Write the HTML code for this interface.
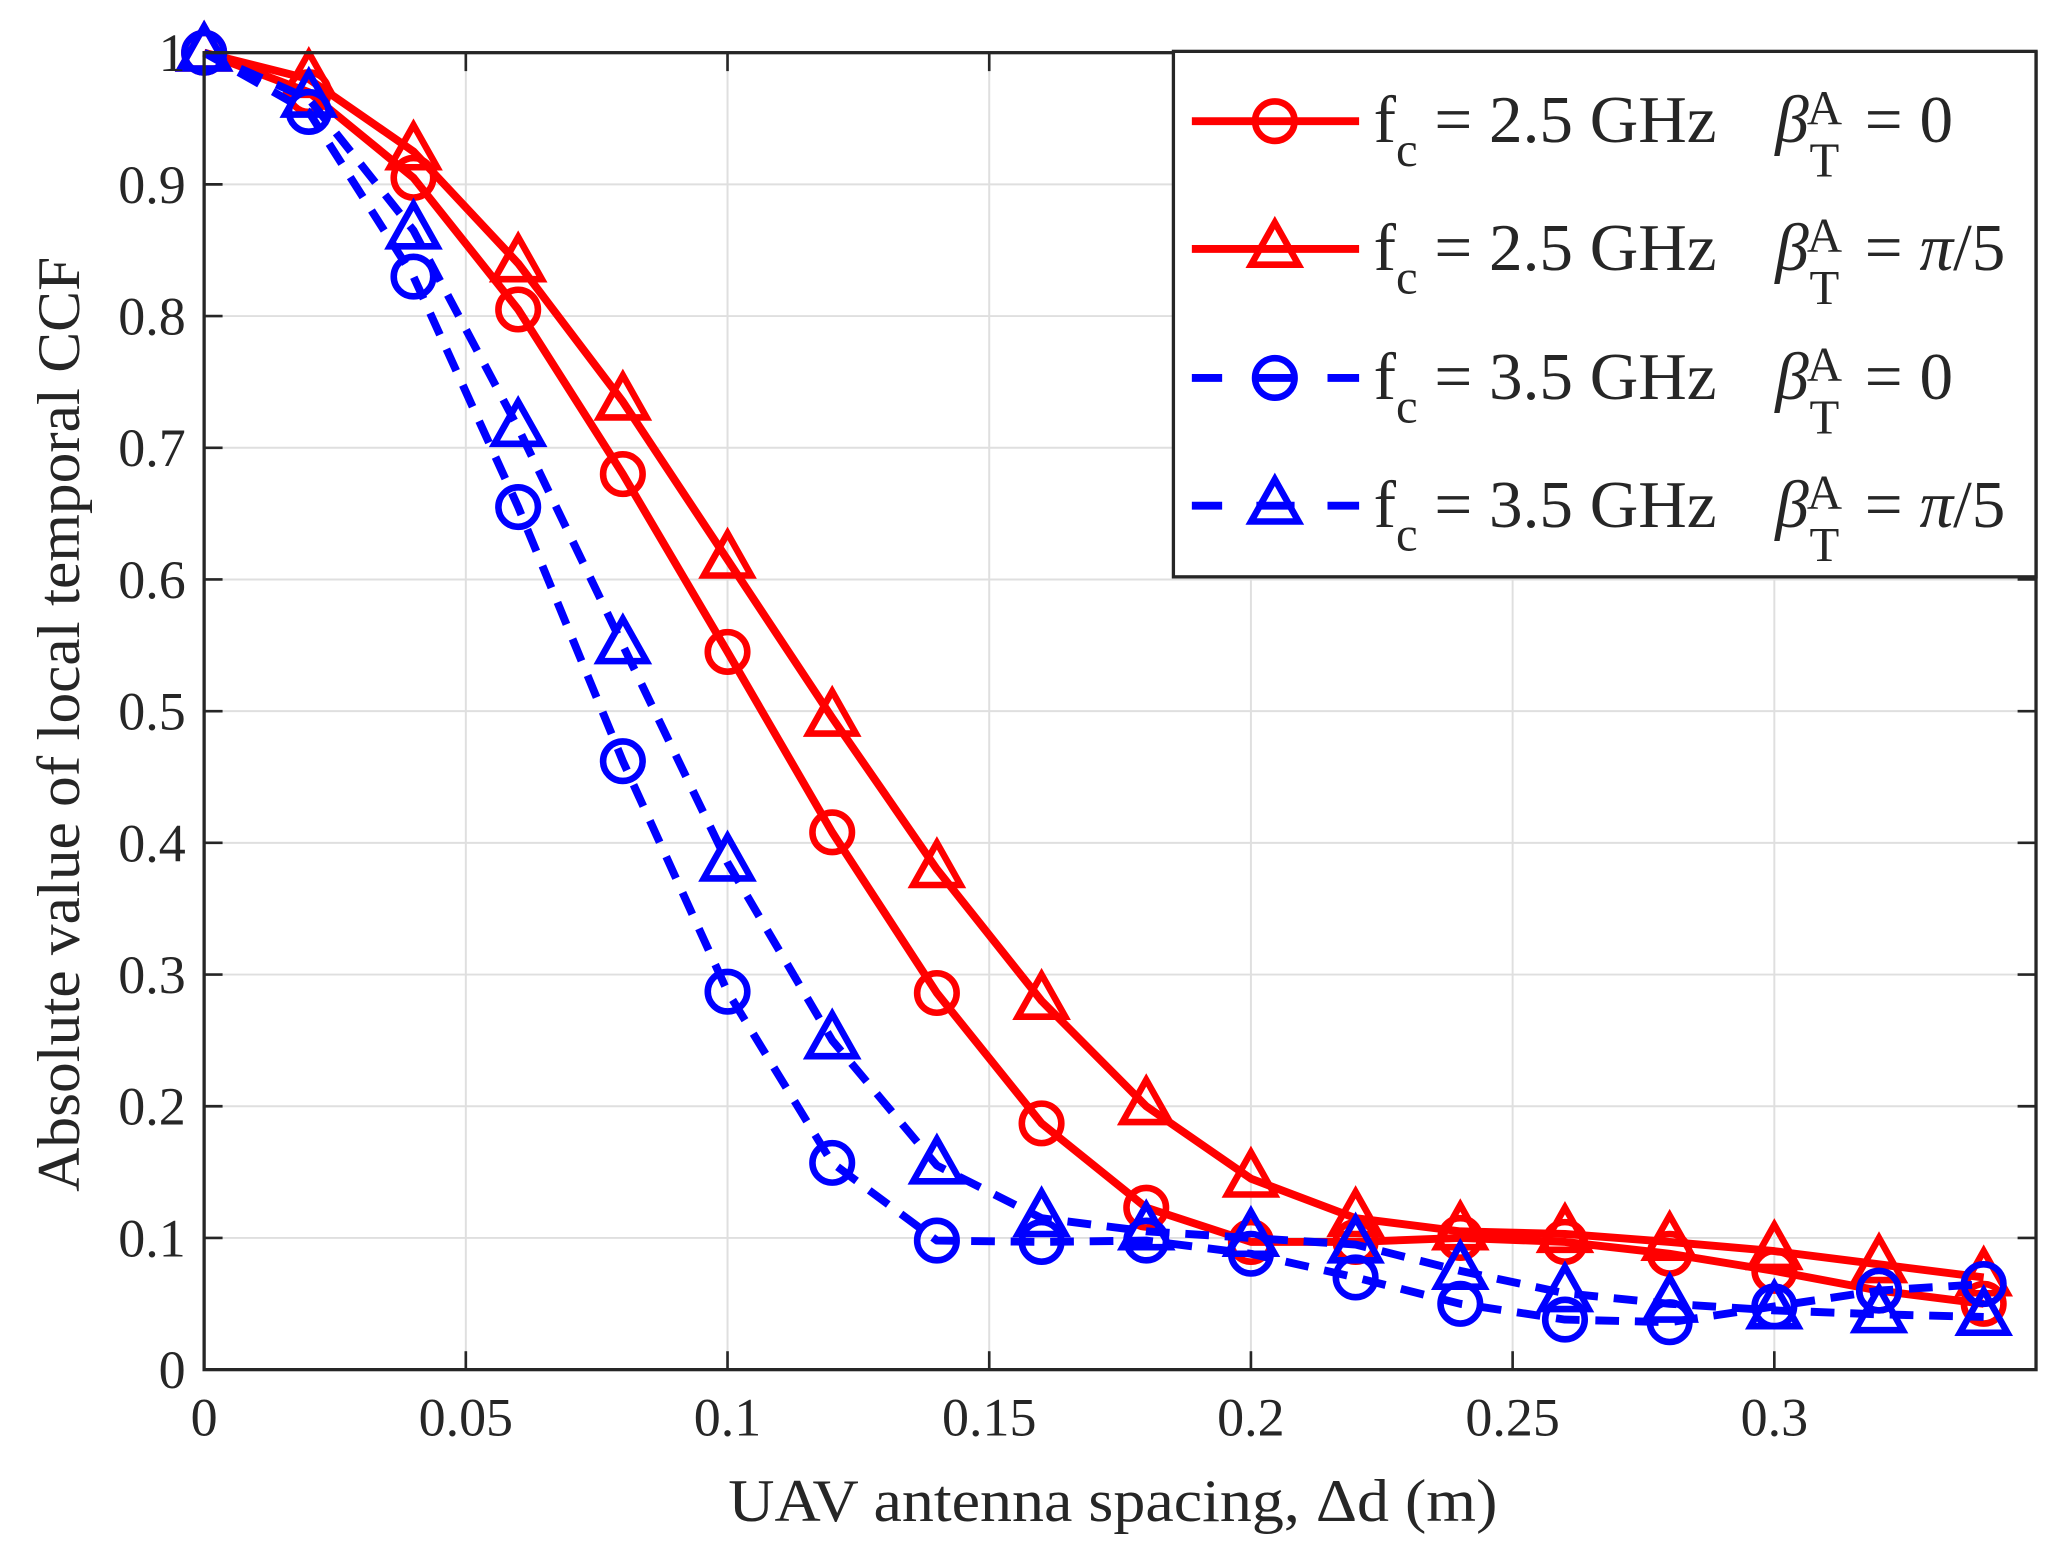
<!DOCTYPE html>
<html><head><meta charset="utf-8"><style>
html,body{margin:0;padding:0;background:#fff;}
svg{display:block;}
text{font-family:"Liberation Serif",serif;fill:#262626;}
</style></head><body>
<svg id="chart" width="2065" height="1561" viewBox="0 0 1568 1185.3" preserveAspectRatio="none" xmlns="http://www.w3.org/2000/svg">
<g id="grid"></g>
<g id="series"></g>
<g id="axes"></g>
<text x="553" y="1155" font-size="46" textLength="584" lengthAdjust="spacingAndGlyphs">UAV antenna spacing, Δd (m)</text>
<text transform="translate(60,905) rotate(-90)" font-size="46" textLength="710" lengthAdjust="spacingAndGlyphs">Absolute value of local temporal CCF</text>
<g id="legend"></g>
</svg>
<script>
const xValues=[0,0.02,0.04,0.06,0.08,0.1,0.12,0.14,0.16,0.18,0.2,0.22,0.24,0.26,0.28,0.3,0.32,0.34];
const redCircle=[1,0.97,0.905,0.805,0.68,0.545,0.408,0.286,0.187,0.123,0.097,0.097,0.1,0.097,0.088,0.075,0.06,0.05];
const redTriangle=[1,0.98,0.925,0.84,0.735,0.615,0.495,0.38,0.28,0.2,0.145,0.115,0.105,0.103,0.097,0.09,0.08,0.07];
const blueCircle=[1,0.955,0.83,0.655,0.462,0.287,0.157,0.098,0.097,0.098,0.088,0.07,0.05,0.038,0.036,0.048,0.06,0.065];
const blueTriangle=[1,0.965,0.865,0.715,0.55,0.385,0.25,0.155,0.115,0.105,0.1,0.095,0.075,0.058,0.05,0.045,0.042,0.04];
const xTicks=[0,0.05,0.1,0.15,0.2,0.25,0.3];
const xTickLabels=["0","0.05","0.1","0.15","0.2","0.25","0.3"];
const yTicks=[0,0.1,0.2,0.3,0.4,0.5,0.6,0.7,0.8,0.9,1];
const yTickLabels=["0","0.1","0.2","0.3","0.4","0.5","0.6","0.7","0.8","0.9","1"];
const legendLabels=[["2.5","0"],["2.5","π/5"],["3.5","0"],["3.5","π/5"]];

const NS="http://www.w3.org/2000/svg";
const L=155,R=1546,T=40,B=1040,XMAX=0.35;
const sx=v=>L+(R-L)*v/XMAX;
const sy=v=>B-(B-T)*v;
function mk(tag,parent,attrs){const e=document.createElementNS(NS,tag);for(const k in attrs)e.setAttribute(k,attrs[k]);parent.appendChild(e);return e;}
const grid=document.getElementById('grid'),axes=document.getElementById('axes'),ser=document.getElementById('series'),leg=document.getElementById('legend');

xTicks.forEach((t,i)=>{
  const g=mk('line',grid,{x1:sx(t),x2:sx(t),y1:T,y2:B,stroke:'#dfdfdf','stroke-width':1.5});
  
  
  const tk=mk('line',axes,{x1:sx(t),x2:sx(t),y1:B,y2:B-14,stroke:'#262626','stroke-width':2});
  
  
  const tk2=mk('line',axes,{x1:sx(t),x2:sx(t),y1:T,y2:T+14,stroke:'#262626','stroke-width':2});
  
  
  const tx=mk('text',axes,{x:sx(t),y:B+50,'font-size':41,'text-anchor':'middle'});
  tx.textContent=xTickLabels[i];
  
  
});
yTicks.forEach((t,i)=>{
  const g=mk('line',grid,{x1:L,x2:R,y1:sy(t),y2:sy(t),stroke:'#dfdfdf','stroke-width':1.5});
  
  
  const tk=mk('line',axes,{x1:L,x2:L+14,y1:sy(t),y2:sy(t),stroke:'#262626','stroke-width':2});
  
  
  const tk2=mk('line',axes,{x1:R,x2:R-14,y1:sy(t),y2:sy(t),stroke:'#262626','stroke-width':2});
  
  
  const tx=mk('text',axes,{x:L-14,y:sy(t)+14,'font-size':41,'text-anchor':'end'});
  tx.textContent=yTickLabels[i];
  
  
});
const box=mk('rect',axes,{x:L,y:T,width:R-L,height:B-T,fill:'none',stroke:'#262626','stroke-width':2.5});



function marker(parent,type,x,y,color){
  let m;
  if(type==='o') m=mk('circle',parent,{cx:x,cy:y,r:15,fill:'none',stroke:color,'stroke-width':5});
  else m=mk('polygon',parent,{points:`${x},${y-20} ${x-18},${y+12} ${x+18},${y+12}`,fill:'none',stroke:color,'stroke-width':5});
  return m;
}
const seriesDefs=[[redCircle,'#ff0000','o',''],[redTriangle,'#ff0000','t',''],[blueCircle,'#0000ff','o','18 12'],[blueTriangle,'#0000ff','t','18 12']];
const names=['series-2.5ghz-beta0','series-2.5ghz-beta-pi5','series-3.5ghz-beta0','series-3.5ghz-beta-pi5'];
seriesDefs.forEach((s,si)=>{
  const g=mk('g',ser,{});
  
  
  const pts=s[0].map((v,i)=>sx(xValues[i])+','+sy(v)).join(' ');
  const pl=mk('polyline',g,{points:pts,fill:'none',stroke:s[1],'stroke-width':6,'stroke-linejoin':'round'});
  if(s[3])pl.setAttribute('stroke-dasharray',s[3]);
  
  
  s[0].forEach((v,i)=>{
    const m=marker(g,s[2],sx(xValues[i]),sy(v),s[1]);
    
    
  });
});

const lb=mk('rect',leg,{x:891,y:39,width:655,height:399,fill:'#fff',stroke:'#262626','stroke-width':2.5});


const rowY=[92,189,287,384];
seriesDefs.forEach((s,i)=>{
  const g=mk('g',leg,{});
  
  
  const y=rowY[i];
  if(s[3]){
    [[905,928],[954,983],[1008,1032]].forEach(p=>{mk('line',g,{x1:p[0],x2:p[1],y1:y,y2:y,stroke:s[1],'stroke-width':6});});
  } else mk('line',g,{x1:905,x2:1032,y1:y,y2:y,stroke:s[1],'stroke-width':6});
  marker(g,s[2],968,y,s[1]);
  const t=mk('text',g,{x:1043,y:y+16,'font-size':51});
  t.innerHTML=`f<tspan dy="18" font-size="37">c</tspan><tspan dy="-18"> = ${legendLabels[i][0]} GHz</tspan>`;
  const b=mk('text',g,{x:1348,y:y+16,'font-size':51});
  b.innerHTML=`<tspan font-style="italic">β</tspan>`;
  const sup=mk('text',g,{x:1372,y:y+2,'font-size':37});sup.textContent='A';
  const sub=mk('text',g,{x:1374,y:y+42,'font-size':37});sub.textContent='T';
  const eq=mk('text',g,{x:1416,y:y+16,'font-size':51});
  eq.innerHTML='= '+(legendLabels[i][1]==='0'?'0':'<tspan font-style="italic">π</tspan>/5');
});
</script>
</body></html>
